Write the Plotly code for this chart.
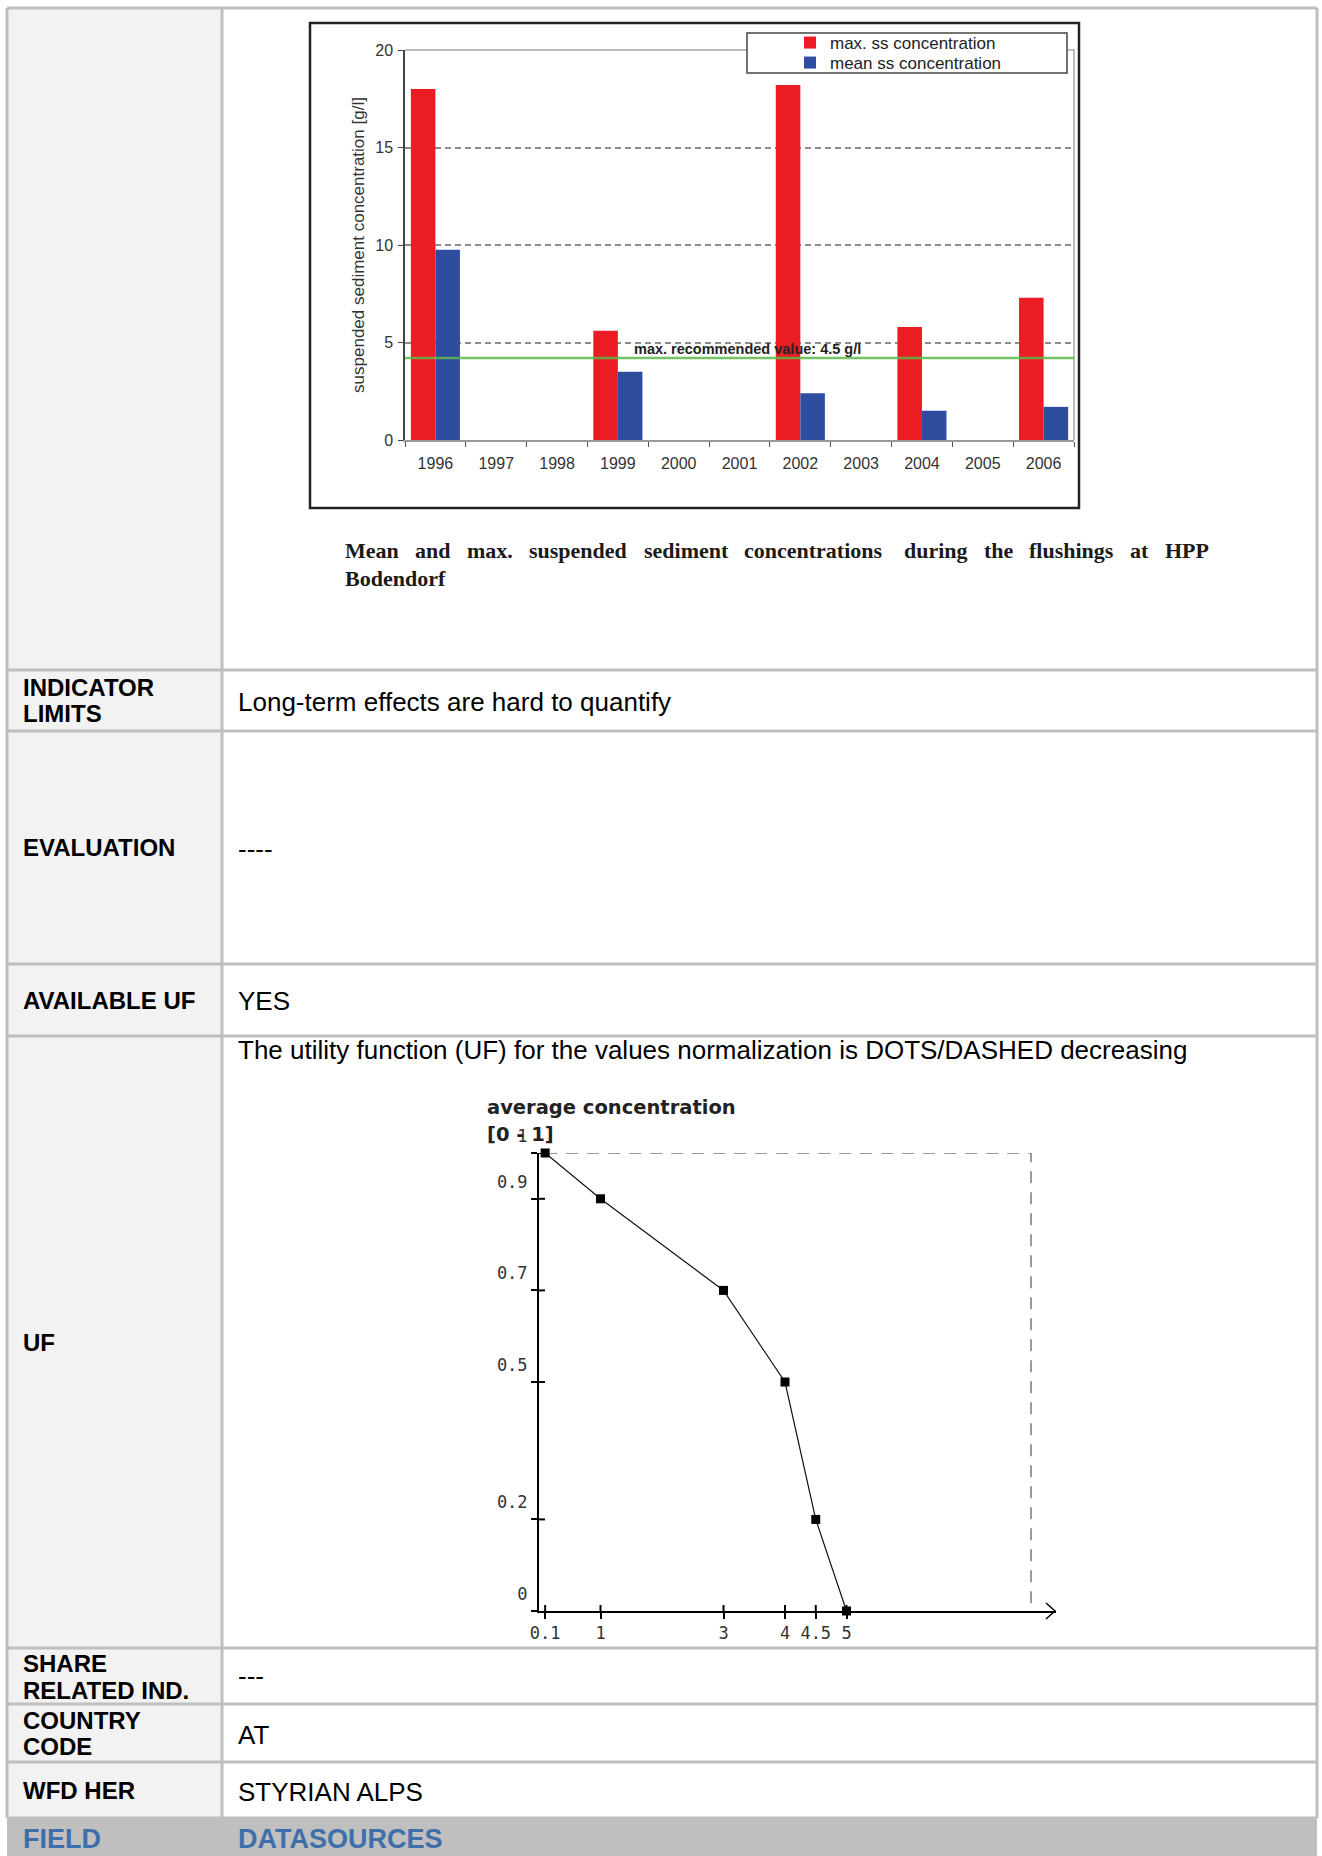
import plotly.graph_objects as go

W, H = 1322, 1856


def X(px):
    return px / W


def Y(py):
    return 1 - py / H


# ---------------- data ----------------
years = ["1996", "1997", "1998", "1999", "2000", "2001", "2002", "2003", "2004", "2005", "2006"]
max_ss = [18.0, None, None, 5.6, None, None, 18.2, None, 5.8, None, 7.3]
mean_ss = [9.75, None, None, 3.5, None, None, 2.4, None, 1.5, None, 1.7]
recommended_level = 4.2
bar_yticks = [0, 5, 10, 15, 20]

uf_x = [0.1, 1, 3, 4, 4.5, 5]
uf_y = [1.0, 0.9, 0.7, 0.5, 0.2, 0.0]
uf_xtick_vals = [0.1, 1, 3, 4, 4.5, 5]
uf_xtick_text = ["0.1", "1", "3", "4", "4.5", "5"]
uf_ytick_vals = [0, 0.2, 0.5, 0.7, 0.9, 1]
uf_ytick_text = ["0", "0.2", "0.5", "0.7", "0.9", "1"]
uf_bound_x = [0.1, 8, 8]
uf_bound_y = [1, 1, 0]

caption_line1 = ["Mean", "and", "max.", "suspended", "sediment", "concentrations",
                 "during", "the", "flushings", "at", "HPP"]
caption_line2 = "Bodendorf"

row_labels = [["INDICATOR", "LIMITS"], ["EVALUATION"], ["AVAILABLE UF"], ["UF"],
              ["SHARE", "RELATED IND."], ["COUNTRY", "CODE"], ["WFD HER"]]
row_values = ["Long-term effects are hard to quantify", "----", "YES",
              "The utility function (UF) for the values normalization is DOTS/DASHED decreasing",
              "---", "AT", "STYRIAN ALPS"]
header_labels = ["FIELD", "DATASOURCES"]

# ---------------- layout constants (pixels) ----------------
TL, TC, TR = 7, 222, 1317
row_lines = [8, 670, 731, 964, 1036, 1648, 1704, 1762, 1818]
label_line_y = [[687, 713], [847], [1000], [1342], [1663, 1690], [1720, 1746], [1790]]
value_y = [702, 849, 1001, 1050, 1676, 1735, 1792]
caption_x = [343, 413, 465, 527, 642, 742, 902, 982, 1027, 1128, 1163]

SANS = "Liberation Sans, Arial, sans-serif"
SERIF = "Liberation Serif, Times New Roman, serif"
MONO = "DejaVu Sans Mono, monospace"
BORDER = "#bfbfbf"

fig = go.Figure()

# ---------------- bar chart ----------------
fig.add_trace(go.Bar(x=years, y=max_ss, name="max. ss concentration",
                     marker=dict(color="#ec1c24", line=dict(width=0)),
                     xaxis="x", yaxis="y", legend="legend"))
fig.add_trace(go.Bar(x=years, y=mean_ss, name="mean ss concentration",
                     marker=dict(color="#2f4d9e", line=dict(width=0)),
                     xaxis="x", yaxis="y", legend="legend2"))

# ---------------- UF chart ----------------
fig.add_trace(go.Scatter(x=uf_bound_x, y=uf_bound_y, mode="lines",
                         line=dict(color="#9a9a9a", width=2, dash="12px,9px"),
                         showlegend=False, xaxis="x2", yaxis="y2", cliponaxis=False,
                         hoverinfo="skip"))
fig.add_trace(go.Scatter(x=uf_x, y=uf_y, mode="lines+markers",
                         line=dict(color="#111", width=1.2),
                         marker=dict(symbol="square", size=9, color="#000"),
                         showlegend=False, xaxis="x2", yaxis="y2", cliponaxis=False))

shapes = []
annotations = []

# table backgrounds
shapes.append(dict(type="rect", xref="paper", yref="paper", x0=X(TL), x1=X(TC),
                   y0=Y(row_lines[-1]), y1=Y(row_lines[0]), fillcolor="#f2f2f2",
                   line=dict(width=0), layer="below"))
shapes.append(dict(type="rect", xref="paper", yref="paper", x0=X(TL), x1=X(TR),
                   y0=Y(H), y1=Y(row_lines[-1]), fillcolor="#bfbfbf",
                   line=dict(width=0), layer="below"))
# horizontal borders
for yl in row_lines:
    shapes.append(dict(type="line", xref="paper", yref="paper", x0=X(TL), x1=X(TR),
                       y0=Y(yl), y1=Y(yl), line=dict(color=BORDER, width=3), layer="below"))
# vertical borders
for xl in (TL, TC, TR):
    shapes.append(dict(type="line", xref="paper", yref="paper", x0=X(xl), x1=X(xl),
                       y0=Y(row_lines[0]), y1=Y(row_lines[-1]),
                       line=dict(color=BORDER, width=3), layer="below"))

# bar chart outer frame
shapes.append(dict(type="rect", xref="paper", yref="paper", x0=X(310), x1=X(1079),
                   y0=Y(508), y1=Y(23), line=dict(color="#222", width=2.5),
                   fillcolor="rgba(0,0,0,0)", layer="below"))
# plot area top and right border
shapes.append(dict(type="path", xref="x domain", yref="y domain",
                   path="M 0 1 L 1 1 L 1 0", line=dict(color="#a8a8a8", width=1.5),
                   layer="above"))
# recommended value line
shapes.append(dict(type="line", xref="x domain", yref="y", x0=0, x1=1,
                   y0=recommended_level, y1=recommended_level,
                   line=dict(color="#5cb84a", width=2.5), opacity=0.85, layer="above"))
# legend box
shapes.append(dict(type="rect", xref="paper", yref="paper", x0=X(747), x1=X(1067),
                   y0=Y(73), y1=Y(33), fillcolor="white",
                   line=dict(color="#444", width=1.5), layer="above"))

# UF inside halves of crossing ticks
uf_dom_w = 1055.6 - 539
uf_dom_h = 1611 - 1153
for v in uf_ytick_vals[1:]:
    shapes.append(dict(type="line", xref="x2 domain", yref="y2", x0=0, x1=6 / uf_dom_w,
                       y0=v, y1=v, line=dict(color="#000", width=2)))
for v in uf_xtick_vals:
    shapes.append(dict(type="line", xref="x2", yref="y2 domain", x0=v, x1=v,
                       y0=0, y1=6 / uf_dom_h, line=dict(color="#000", width=2)))
# x-axis arrow head
shapes.append(dict(type="path", xref="paper", yref="paper",
                   path=f"M {X(1046)} {Y(1603)} L {X(1055)} {Y(1611)} L {X(1046)} {Y(1619)}",
                   line=dict(color="#000", width=1.5)))

# recommended value label
annotations.append(dict(text="max. recommended value: 4.5 g/l", xref="paper", yref="paper",
                        x=X(632), y=Y(349), xanchor="left", yanchor="middle", showarrow=False,
                        font=dict(family=SANS, size=14.5, color="#222", weight="bold")))

# caption
for word, xp in zip(caption_line1, caption_x):
    annotations.append(dict(text=word, xref="paper", yref="paper", x=X(xp), y=Y(550),
                            xanchor="left", yanchor="middle", showarrow=False,
                            font=dict(family=SERIF, size=22, color="#1a1a1a", weight="bold")))
annotations.append(dict(text=caption_line2, xref="paper", yref="paper", x=X(343), y=Y(578),
                        xanchor="left", yanchor="middle", showarrow=False,
                        font=dict(family=SERIF, size=22, color="#1a1a1a", weight="bold")))

# UF chart title
annotations.append(dict(text="average concentration", xref="paper", yref="paper",
                        x=X(485), y=Y(1107), xanchor="left", yanchor="middle", showarrow=False,
                        font=dict(family="DejaVu Sans, sans-serif", size=19.5, color="#222",
                                  weight="bold")))
annotations.append(dict(text="[0 - 1]", xref="paper", yref="paper",
                        x=X(485), y=Y(1134), xanchor="left", yanchor="middle", showarrow=False,
                        font=dict(family="DejaVu Sans, sans-serif", size=19.5, color="#222",
                                  weight="bold")))

# table labels & values
for lines, ys in zip(row_labels, label_line_y):
    for txt, yy in zip(lines, ys):
        annotations.append(dict(text=txt, xref="paper", yref="paper", x=X(21), y=Y(yy),
                                xanchor="left", yanchor="middle", showarrow=False,
                                font=dict(family=SANS, size=24, color="#000", weight="bold")))
for txt, yy in zip(row_values, value_y):
    annotations.append(dict(text=txt, xref="paper", yref="paper", x=X(236), y=Y(yy),
                            xanchor="left", yanchor="middle", showarrow=False,
                            font=dict(family=SANS, size=26, color="#000")))
for txt, xx in zip(header_labels, (21, 236)):
    annotations.append(dict(text=txt, xref="paper", yref="paper", x=X(xx), y=Y(1839),
                            xanchor="left", yanchor="middle", showarrow=False,
                            font=dict(family=SANS, size=27, color="#3f6fab", weight="bold")))

legend_common = dict(xanchor="left", yanchor="middle", bgcolor="rgba(0,0,0,0)",
                     borderwidth=0, itemwidth=30, tracegroupgap=0,
                     font=dict(family=SANS, size=17, color="#222"))

fig.update_layout(
    template="none",
    width=W, height=H, autosize=False,
    margin=dict(l=0, r=0, t=0, b=0, pad=0, autoexpand=False),
    paper_bgcolor="white", plot_bgcolor="rgba(0,0,0,0)",
    barmode="group", bargap=0.193, bargroupgap=0,
    showlegend=True,
    legend=dict(x=X(790), y=Y(43), **legend_common),
    legend2=dict(x=X(790), y=Y(63), **legend_common),
    xaxis=dict(domain=[X(405), X(1074)], anchor="y", type="category", automargin=False,
               categoryorder="array", categoryarray=years,
               tickson="boundaries", ticks="outside", ticklen=5, tickcolor="#555",
               ticklabelstandoff=8,
               showline=True, linecolor="#9a9a9a", linewidth=2, showgrid=False,
               tickfont=dict(family=SANS, size=16, color="#333"), fixedrange=True),
    yaxis=dict(domain=[Y(440), Y(50)], anchor="x", range=[0, 20], tickvals=bar_yticks,
               automargin=False,
               ticks="outside", ticklen=5, tickcolor="#444", ticklabelstandoff=2,
               showline=True, linecolor="#444", linewidth=1.5, zeroline=False,
               showgrid=True, gridcolor="#8c8c8c", gridwidth=1.5, griddash="6px,4px",
               tickfont=dict(family=SANS, size=16, color="#333"),
               title=dict(text="suspended sediment concentration [g/l]", standoff=6,
                          font=dict(family=SANS, size=17, color="#333")),
               fixedrange=True),
    xaxis2=dict(domain=[X(539), X(1055.6)], anchor="y2", range=[0, 8.4], automargin=False,
                tickvals=uf_xtick_vals, ticktext=uf_xtick_text,
                ticks="outside", ticklen=6, tickwidth=2, tickcolor="#000",
                showline=True, linecolor="#000", linewidth=2, showgrid=False, zeroline=False,
                tickfont=dict(family=MONO, size=17, color="#333"), fixedrange=True),
    yaxis2=dict(domain=[Y(1611), Y(1153)], anchor="x2", range=[0, 1], automargin=False,
                tickvals=uf_ytick_vals, ticktext=uf_ytick_text,
                ticks="outside", ticklen=6, tickwidth=2, tickcolor="#000",
                showline=True, linecolor="#000", linewidth=2, showgrid=False, zeroline=False,
                ticklabelshift=-17,
                tickfont=dict(family=MONO, size=17, color="#333"), fixedrange=True),
    shapes=shapes,
    annotations=annotations,
)

fig.write_html(
    "out.html",
    config={"displayModeBar": False},
    post_script="document.body.style.margin='0';document.body.style.overflow='hidden';",
)
